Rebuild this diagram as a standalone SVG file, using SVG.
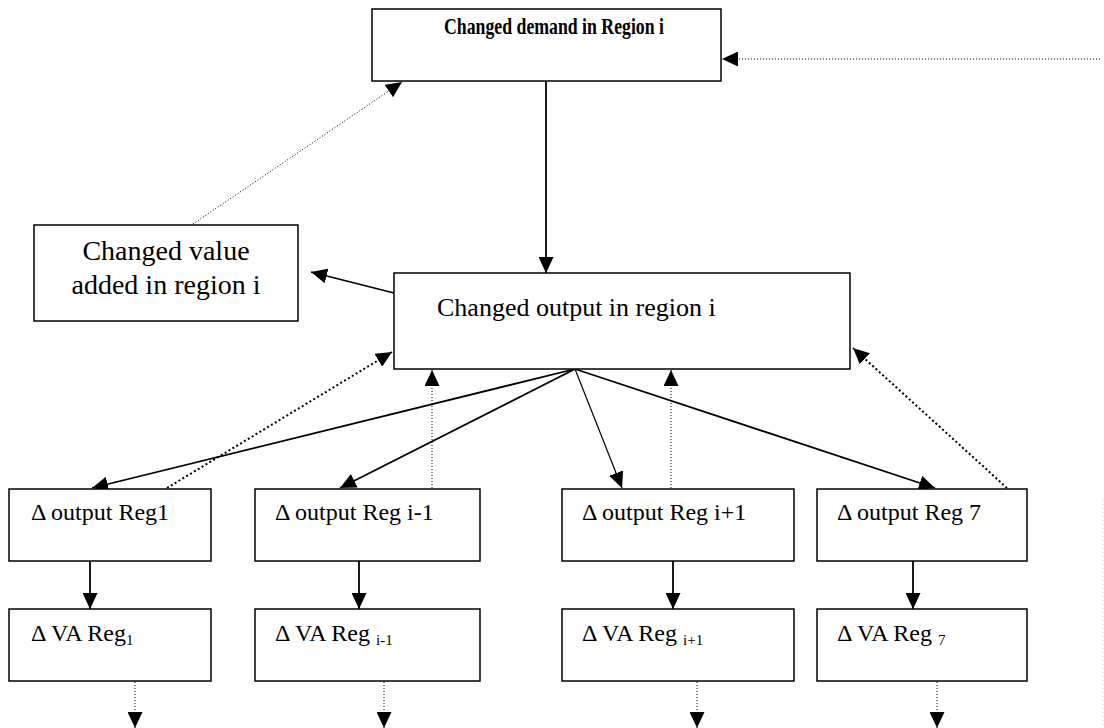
<svg xmlns="http://www.w3.org/2000/svg" width="1104" height="728" viewBox="0 0 1104 728">
<defs>
<marker id="ah" markerUnits="userSpaceOnUse" markerWidth="16" markerHeight="15" refX="16" refY="7.5" orient="auto">
<path d="M0,0 L16,7.5 L0,15 z" fill="#000"/>
</marker>
<style>
.box{fill:#fff;stroke:#000;stroke-width:1.5}
.t{font-family:"Liberation Serif","Times New Roman",serif;fill:#000}
.solid{stroke:#000;stroke-width:1.8;fill:none}
.thin{stroke:#000;stroke-width:1.2;fill:none}
.dot{stroke:#000;stroke-width:1;stroke-dasharray:1 2;fill:none}
.dot2{stroke:#000;stroke-width:2;stroke-dasharray:2 2.5;fill:none}
</style>
</defs>
<rect width="1104" height="728" fill="#fff"/>

<g id="connectors">
<line class="dot" x1="1100" y1="59" x2="722" y2="59" marker-end="url(#ah)"/>
<line class="solid" x1="546" y1="81" x2="546" y2="273" marker-end="url(#ah)"/>
<line class="dot" x1="193" y1="224" x2="402" y2="82" marker-end="url(#ah)"/>
<line class="solid" x1="394" y1="293" x2="311" y2="272" marker-end="url(#ah)"/>
<line class="solid" x1="575" y1="369" x2="92" y2="488" marker-end="url(#ah)"/>
<line class="solid" x1="575" y1="369" x2="340" y2="488" marker-end="url(#ah)"/>
<line class="thin" x1="575" y1="369" x2="622" y2="488" marker-end="url(#ah)"/>
<line class="solid" x1="575" y1="369" x2="935" y2="488" marker-end="url(#ah)"/>
<line class="dot2" x1="167" y1="488" x2="392" y2="352" marker-end="url(#ah)"/>
<line class="dot" x1="432" y1="488" x2="432" y2="370" marker-end="url(#ah)"/>
<line class="dot" x1="671" y1="488" x2="671" y2="370" marker-end="url(#ah)"/>
<line class="dot2" x1="1007" y1="488" x2="853" y2="348" marker-end="url(#ah)"/>
<line class="solid" x1="90" y1="561" x2="90" y2="609" marker-end="url(#ah)"/>
<line class="solid" x1="359" y1="561" x2="359" y2="609" marker-end="url(#ah)"/>
<line class="solid" x1="673" y1="561" x2="673" y2="609" marker-end="url(#ah)"/>
<line class="solid" x1="913" y1="561" x2="913" y2="609" marker-end="url(#ah)"/>
<line class="dot" x1="135" y1="682" x2="135" y2="728" marker-end="url(#ah)"/>
<line class="dot" x1="384" y1="682" x2="384" y2="728" marker-end="url(#ah)"/>
<line class="dot" x1="697" y1="682" x2="697" y2="728" marker-end="url(#ah)"/>
<line class="dot" x1="937" y1="682" x2="937" y2="728" marker-end="url(#ah)"/>
<line x1="1103" y1="500" x2="1103" y2="728" stroke="#ccc" stroke-width="1" stroke-dasharray="1 3"/>
</g>

<g id="demand">
<rect class="box" x="372" y="9" width="349" height="72"/>
<text class="t" x="444" y="34" font-size="24" font-weight="bold" textLength="220" lengthAdjust="spacingAndGlyphs">Changed demand in Region i</text>
</g>

<g id="valueadded">
<rect class="box" x="34" y="225" width="264" height="96"/>
<text class="t" x="166" y="260" font-size="28" text-anchor="middle">Changed value</text>
<text class="t" x="166" y="294" font-size="28" text-anchor="middle">added in region i</text>
</g>

<g id="output">
<rect class="box" x="394" y="273" width="456" height="96"/>
<text class="t" x="437" y="316" font-size="26">Changed output in region i</text>
</g>

<g id="out1">
<rect class="box" x="9" y="489" width="202" height="72"/>
<text class="t" x="31" y="520" font-size="24">Δ output Reg1</text>
</g>
<g id="outim1">
<rect class="box" x="255" y="489" width="225" height="72"/>
<text class="t" x="275" y="520" font-size="24">Δ output Reg i-1</text>
</g>
<g id="outip1">
<rect class="box" x="562" y="489" width="232" height="72"/>
<text class="t" x="582" y="520" font-size="24">Δ output Reg i+1</text>
</g>
<g id="out7">
<rect class="box" x="817" y="489" width="210" height="72"/>
<text class="t" x="837" y="520" font-size="24">Δ output Reg 7</text>
</g>

<g id="va1">
<rect class="box" x="9" y="609" width="202" height="72"/>
<text class="t" x="31" y="641" font-size="24">Δ VA Reg<tspan font-size="15" dy="4">1</tspan></text>
</g>
<g id="vaim1">
<rect class="box" x="255" y="609" width="225" height="72"/>
<text class="t" x="275" y="641" font-size="24">Δ VA Reg <tspan font-size="15" dy="4">i-1</tspan></text>
</g>
<g id="vaip1">
<rect class="box" x="562" y="609" width="232" height="72"/>
<text class="t" x="582" y="641" font-size="24">Δ VA Reg <tspan font-size="15" dy="4">i+1</tspan></text>
</g>
<g id="va7">
<rect class="box" x="817" y="609" width="210" height="72"/>
<text class="t" x="837" y="641" font-size="24">Δ VA Reg <tspan font-size="15" dy="4">7</tspan></text>
</g>
</svg>
